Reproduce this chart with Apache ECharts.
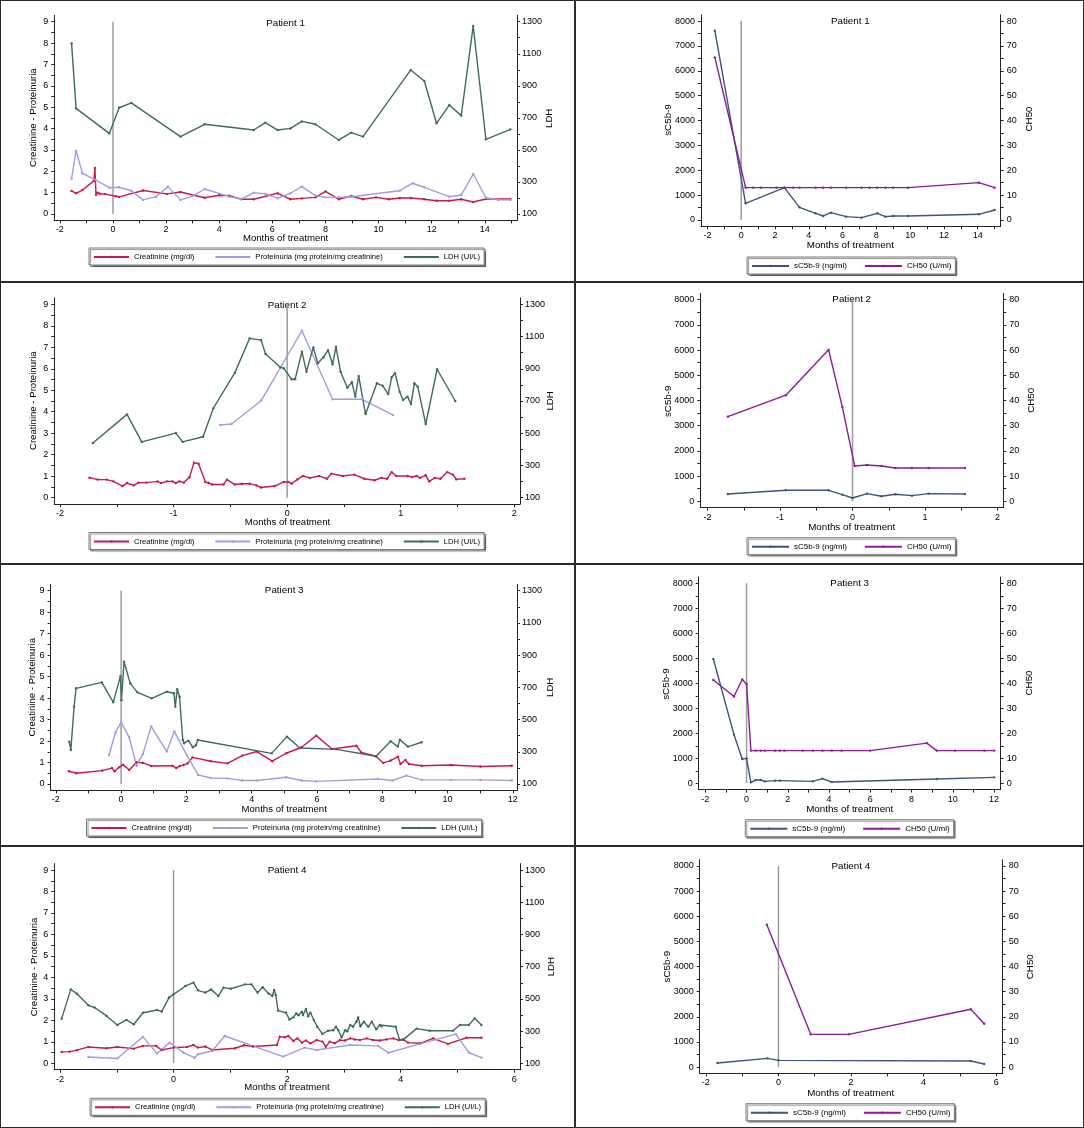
<!DOCTYPE html>
<html>
<head>
<meta charset="utf-8">
<script src="https://cdn.jsdelivr.net/npm/echarts@6/dist/echarts.min.js"></script>
<style>
  html, body { margin: 0; padding: 0; background: #fff; }
  #page { position: relative; width: 1084px; height: 1128px; overflow: hidden; }
  .panel { position: absolute; }
  .frame { position: absolute; box-sizing: border-box; border: 1px solid #2a2a2a; pointer-events: none; }
</style>
</head>
<body>
<div id="page"></div>
<script>
// ---------- tick labels ----------
const leftLabels = [0, 1, 2, 3, 4, 5, 6, 7, 8, 9]
const leftTicks = [0, 0.5, 1, 1.5, 2, 2.5, 3, 3.5, 4, 4.5, 5, 5.5, 6, 6.5, 7, 7.5, 8, 8.5, 9]
const ldhLabels = [100, 300, 500, 700, 900, 1100, 1300]
const ldhTicks = [100, 200, 300, 400, 500, 600, 700, 800, 900, 1000, 1100, 1200, 1300]
const sc5bLabels = [0, 1000, 2000, 3000, 4000, 5000, 6000, 7000, 8000]
const sc5bTicks = [0, 500, 1000, 1500, 2000, 2500, 3000, 3500, 4000, 4500, 5000, 5500, 6000, 6500, 7000, 7500, 8000]
const ch50Labels = [0, 10, 20, 30, 40, 50, 60, 70, 80]
const ch50Ticks = [0, 5, 10, 15, 20, 25, 30, 35, 40, 45, 50, 55, 60, 65, 70, 75, 80]

const monthLabelsP1 = [-2, 0, 2, 4, 6, 8, 10, 12, 14]
const monthTicksP1 = [-2, -1, 0, 1, 2, 3, 4, 5, 6, 7, 8, 9, 10, 11, 12, 13, 14, 15]
const monthLabelsP2 = [-2, -1, 0, 1, 2]
const monthTicksP2 = [-2, -1.5, -1, -0.5, 0, 0.5, 1, 1.5, 2]
const monthLabelsP3 = [-2, 0, 2, 4, 6, 8, 10, 12]
const monthTicksP3 = [-2, -1, 0, 1, 2, 3, 4, 5, 6, 7, 8, 9, 10, 11, 12]
const monthLabelsP4 = [-2, 0, 2, 4, 6]
const monthTicksP4 = [-2, -1, 0, 1, 2, 3, 4, 5, 6]

// start of treatment marker (month 0)
const zeroLineLeft = [[0, 0], [0, 9]]
const zeroLineRight = [[0, 0], [0, 8000]]

// ---------- Patient 1 ----------
const p1Creatinine = [[-1.56,1.08],[-1.39,0.97],[-1.15,1.12],[-0.72,1.55],[-0.68,2.15],[-0.64,0.9],[-0.58,1.0],[-0.5,0.95],[-0.3,0.93],[0.1,0.83],[0.23,0.8],[1.13,1.1],[2.03,0.94],[2.54,1.03],[3.45,0.76],[4.0,0.88],[4.38,0.86],[4.83,0.69],[5.3,0.69],[6.2,0.97],[6.68,0.69],[7.11,0.73],[7.62,0.78],[8.0,1.06],[8.5,0.69],[8.97,0.84],[9.41,0.69],[9.9,0.78],[10.38,0.69],[10.8,0.75],[11.21,0.75],[11.72,0.69],[12.18,0.62],[12.66,0.62],[13.11,0.69],[13.56,0.56],[14.04,0.7],[14.96,0.7]]
const p1Proteinuria = [[-1.56,1.65],[-1.39,2.96],[-1.15,1.9],[-0.66,1.6],[-0.14,1.23],[0.23,1.25],[0.69,1.09],[1.13,0.66],[1.62,0.81],[2.07,1.28],[2.54,0.66],[3.0,0.84],[3.45,1.17],[4.38,0.81],[4.83,0.7],[5.3,1.0],[5.73,0.94],[6.2,0.73],[6.68,0.97],[7.11,1.28],[7.62,0.86],[8.0,0.78],[8.5,0.78],[8.97,0.81],[10.8,1.09],[11.28,1.44],[11.72,1.25],[12.66,0.81],[13.11,0.89],[13.56,1.87],[14.04,0.76],[14.5,0.66],[14.96,0.66]]
const p1LDH = [[-1.56,1165],[-1.39,759],[-0.14,603],[0.23,763],[0.69,793],[2.54,583],[3.45,660],[5.3,624],[5.73,670],[6.2,624],[6.68,634],[7.11,678],[7.62,660],[8.5,562],[8.97,608],[9.41,583],[11.21,999],[11.72,930],[12.18,666],[12.66,780],[13.11,714],[13.56,1273],[14.04,566],[14.96,628]]
const p1SC5b9 = [[-1.56,7611],[0.26,670],[2.56,1300],[3.45,509],[4.4,268],[4.85,161],[5.31,295],[6.21,134],[7.12,94],[8.05,268],[8.54,134],[9.0,161],[9.88,161],[14.07,228],[15.0,402]]
const p1CH50 = [[-1.56,65.4],[0.26,13],[0.71,13],[1.16,13],[2.09,13],[2.56,13],[3.08,13],[3.45,13],[4.4,13],[4.85,13],[5.31,13],[6.21,13],[7.12,13],[7.6,13],[8.05,13],[8.54,13],[9.0,13],[9.88,13],[14.07,15],[15.0,13]]

// ---------- Patient 2 ----------
const p2Creatinine = [[-1.74,0.93],[-1.67,0.84],[-1.59,0.84],[-1.53,0.76],[-1.45,0.54],[-1.41,0.68],[-1.35,0.57],[-1.31,0.70],[-1.24,0.70],[-1.14,0.76],[-1.11,0.68],[-1.06,0.76],[-1.01,0.76],[-0.98,0.68],[-0.95,0.76],[-0.91,0.70],[-0.86,0.95],[-0.82,1.63],[-0.78,1.58],[-0.72,0.73],[-0.69,0.68],[-0.66,0.61],[-0.56,0.61],[-0.53,0.84],[-0.46,0.61],[-0.40,0.65],[-0.33,0.65],[-0.27,0.57],[-0.23,0.47],[-0.11,0.54],[-0.03,0.73],[0.01,0.73],[0.04,0.65],[0.09,0.85],[0.14,1.01],[0.20,0.92],[0.28,1.01],[0.35,0.88],[0.39,1.12],[0.49,1.01],[0.59,1.07],[0.68,0.88],[0.77,0.81],[0.83,0.92],[0.88,0.88],[0.92,1.19],[0.96,1.01],[1.06,1.01],[1.10,0.96],[1.14,1.01],[1.17,0.92],[1.22,1.04],[1.25,0.76],[1.30,0.92],[1.35,0.88],[1.41,1.19],[1.46,1.07],[1.49,0.85],[1.56,0.88]]
const p2Proteinuria = [[-0.59,3.38],[-0.49,3.43],[-0.23,4.51],[0.13,7.77],[0.40,4.58],[0.66,4.58],[0.93,3.85]]
const p2LDH = [[-1.71,439],[-1.41,617],[-1.28,446],[-0.98,501],[-0.92,446],[-0.74,478],[-0.65,655],[-0.46,876],[-0.33,1089],[-0.23,1078],[-0.19,992],[-0.06,909],[-0.03,903],[0.04,835],[0.07,835],[0.13,1006],[0.17,882],[0.23,1033],[0.27,934],[0.32,971],[0.36,1016],[0.40,928],[0.43,1037],[0.47,882],[0.53,782],[0.57,816],[0.60,727],[0.63,855],[0.69,619],[0.79,810],[0.84,795],[0.89,743],[0.92,847],[0.95,872],[0.99,758],[1.02,706],[1.06,727],[1.09,681],[1.12,810],[1.15,789],[1.22,557],[1.32,897],[1.48,700]]
const p2SC5b9 = [[-1.72,291],[-0.92,436],[-0.33,436],[-0.14,264],[0.0,132],[0.20,304],[0.40,198],[0.59,278],[0.82,225],[1.05,304],[1.55,291]]
const p2CH50 = [[-1.72,33.6],[-0.92,42.1],[-0.33,60.1],[-0.14,37.4],[0.03,14.0],[0.20,14.4],[0.40,14.0],[0.59,13.2],[0.82,13.2],[1.05,13.2],[1.55,13.2]]

// ---------- Patient 3 ----------
const p3Creatinine = [[-1.60,0.59],[-1.37,0.50],[-0.58,0.62],[-0.28,0.74],[-0.20,0.59],[-0.06,0.78],[0.06,0.90],[0.25,0.65],[0.47,1.01],[0.67,0.98],[0.92,0.84],[1.57,0.85],[1.69,0.74],[1.80,0.84],[1.91,0.88],[2.04,0.96],[2.19,1.24],[2.75,1.06],[3.26,0.96],[3.71,1.32],[4.16,1.51],[4.63,1.06],[5.06,1.43],[5.53,1.71],[5.98,2.25],[6.46,1.63],[7.21,1.78],[7.36,1.47],[7.81,1.29],[8.03,0.98],[8.26,1.09],[8.48,1.27],[8.56,0.93],[8.71,1.12],[8.82,0.93],[9.21,0.85],[10.11,0.88],[11.01,0.81],[11.97,0.85]]
const p3Proteinuria = [[-0.37,1.35],[-0.17,2.41],[0.0,2.87],[0.25,2.17],[0.47,0.85],[0.67,1.40],[0.92,2.68],[1.40,1.51],[1.63,2.45],[2.02,1.32],[2.36,0.42],[2.75,0.28],[3.26,0.26],[3.71,0.16],[4.16,0.16],[5.06,0.31],[5.53,0.16],[5.98,0.12],[7.87,0.23],[8.31,0.16],[8.74,0.39],[9.21,0.19],[10.11,0.19],[11.01,0.19],[11.97,0.16]]
const p3LDH = [[-1.59,363],[-1.54,311],[-1.44,580],[-1.38,694],[-0.59,731],[-0.24,607],[-0.02,770],[0.01,620],[0.09,859],[0.28,725],[0.50,669],[0.94,632],[1.40,673],[1.62,663],[1.66,580],[1.72,688],[1.79,642],[1.89,373],[1.93,353],[2.06,369],[2.20,328],[2.29,340],[2.35,373],[4.61,290],[5.08,394],[5.48,323],[6.6,315],[7.81,272],[8.26,365],[8.48,332],[8.54,375],[8.79,332],[9.21,359]]
const p3SC5b9 = [[-1.61,4972],[-0.61,1946],[-0.21,973],[0.0,1000],[0.21,40],[0.44,133],[0.68,133],[0.89,80],[1.38,107],[1.61,107],[3.21,80],[3.68,187],[4.13,53],[9.22,173],[12.0,240]]
const p3CH50 = [[-1.61,41.3],[-0.61,34.7],[-0.21,41.5],[0.0,39.7],[0.21,13.1],[0.44,13.1],[0.68,13.1],[0.89,13.1],[1.38,13.1],[1.61,13.1],[1.83,13.1],[2.72,13.1],[3.21,13.1],[3.68,13.1],[4.13,13.1],[4.61,13.1],[5.99,13.1],[8.74,16.1],[9.22,13.1],[10.1,13.1],[11.53,13.1],[12.0,13.1]]

// ---------- Patient 4 ----------
const p4Creatinine = [[-1.97,0.53],[-1.83,0.54],[-1.70,0.61],[-1.50,0.76],[-1.18,0.70],[-0.99,0.76],[-0.70,0.68],[-0.54,0.81],[-0.31,0.81],[-0.21,0.62],[0.0,0.73],[0.24,0.76],[0.35,0.85],[0.43,0.73],[0.56,0.78],[0.68,0.62],[1.08,0.70],[1.24,0.84],[1.40,0.78],[1.82,0.85],[1.87,1.24],[1.96,1.21],[2.02,1.27],[2.11,1.04],[2.18,1.16],[2.26,0.96],[2.33,1.06],[2.41,0.93],[2.52,1.08],[2.62,1.01],[2.68,0.77],[2.75,1.01],[2.84,0.93],[2.93,1.08],[3.02,1.06],[3.11,1.16],[3.19,1.11],[3.28,1.08],[3.40,1.16],[3.51,1.08],[3.63,1.06],[3.75,1.11],[3.87,1.16],[3.96,1.08],[4.04,1.11],[4.13,0.96],[4.34,0.93],[4.57,1.16],[4.83,0.90],[5.16,1.19],[5.42,1.19]]
const p4Proteinuria = [[-1.50,0.29],[-0.99,0.22],[-0.54,1.23],[-0.29,0.45],[-0.07,0.96],[0.17,0.50],[0.37,0.26],[0.43,0.42],[0.68,0.57],[0.90,1.27],[1.93,0.31],[2.31,0.73],[2.52,0.62],[3.11,0.85],[3.60,0.81],[3.78,0.49],[4.34,0.90],[4.97,1.36],[5.20,0.49],[5.42,0.26]]
const p4LDH = [[-1.97,377],[-1.81,559],[-1.70,532],[-1.50,460],[-1.39,446],[-1.18,394],[-0.99,338],[-0.83,369],[-0.70,342],[-0.54,414],[-0.29,431],[-0.21,421],[-0.08,508],[0.0,528],[0.21,580],[0.35,601],[0.43,553],[0.56,539],[0.66,559],[0.79,518],[0.88,570],[1.01,563],[1.26,590],[1.37,590],[1.48,539],[1.57,572],[1.67,534],[1.74,518],[1.77,555],[1.80,524],[1.84,427],[1.98,414],[2.04,372],[2.11,385],[2.16,410],[2.20,398],[2.26,420],[2.28,400],[2.33,437],[2.37,392],[2.41,414],[2.47,369],[2.53,327],[2.62,282],[2.72,302],[2.81,305],[2.86,327],[2.90,305],[2.96,261],[3.02,305],[3.06,298],[3.11,338],[3.16,327],[3.22,358],[3.25,385],[3.29,330],[3.35,358],[3.43,327],[3.49,358],[3.57,311],[3.63,338],[3.66,330],[3.91,327],[3.98,245],[4.04,245],[4.28,315],[4.51,302],[4.92,302],[5.04,338],[5.20,338],[5.30,379],[5.42,338]]
const p4SC5b9 = [[-1.68,159],[-0.30,345],[0.0,265],[5.30,239],[5.67,119]]
const p4CH50 = [[-0.32,56.6],[0.89,13.0],[1.94,13.0],[5.30,23.0],[5.67,17.2]]

// ---------- styling ----------
const FONT = '"Liberation Sans", Arial, sans-serif'
const INK = '#000'
const C_CREAT = '#c8194a'
const C_PROT = '#a39ce2'
const C_LDH = '#3f6b5b'
const C_SC5B = '#3c557a'
const C_CH50 = '#8d1b97'
const C_ZERO = '#9c9c9c'

const page = document.getElementById('page')

function makeBox(x, y, w, h) {
  const el = document.createElement('div')
  el.className = 'panel'
  Object.assign(el.style, { left: x + 'px', top: y + 'px', width: w + 'px', height: h + 'px' })
  page.appendChild(el)
  const fr = document.createElement('div')
  fr.className = 'frame'
  Object.assign(fr.style, { left: x + 'px', top: y + 'px', width: w + 'px', height: h + 'px' })
  page.appendChild(fr)
  return el
}

function valueAxis(o) {
  return {
    type: 'value',
    min: o.min,
    max: o.max,
    position: o.position,
    axisLine: { show: true, onZero: false, lineStyle: { color: '#222', width: 1 } },
    axisTick: { show: true, length: 3, customValues: o.ticks, lineStyle: { color: '#222', width: 1 } },
    axisLabel: {
      customValues: o.labels, fontFamily: FONT, fontSize: 9, color: INK, margin: o.margin || 6,
      formatter: v => String(v)
    },
    splitLine: { show: false },
    minorTick: { show: false }
  }
}

function lineSeries(name, data, color, yIdx) {
  return {
    type: 'line', name, data, yAxisIndex: yIdx,
    symbol: 'circle', symbolSize: 2.4, showSymbol: true,
    lineStyle: { color, width: 1.4 },
    itemStyle: { color },
    emphasis: { disabled: true },
    z: 3
  }
}

function zeroSeries(data) {
  return {
    type: 'line', data, yAxisIndex: 0, symbol: 'none', silent: true,
    lineStyle: { color: C_ZERO, width: 1.5 }, z: 1
  }
}

function legendBox(names, left, top, itemWidth, itemGap, fontSize) {
  return {
    data: names, left, top, orient: 'horizontal',
    itemWidth, itemHeight: 3, itemGap,
    padding: [5, 4, 4, 4],
    borderColor: '#7a7a7a', borderWidth: 1, backgroundColor: '#fff',
    shadowColor: 'rgba(0,0,0,0.45)', shadowBlur: 1, shadowOffsetX: 1.5, shadowOffsetY: 1.5,
    selectedMode: false,
    textStyle: { fontFamily: FONT, fontSize, color: INK }
  }
}

function label(text, x, y, size, vertical) {
  return {
    type: 'text', x, y, silent: true, rotation: vertical ? Math.PI / 2 : 0,
    style: { text, fontFamily: FONT, fontSize: size, fill: INK, align: 'center', verticalAlign: 'middle' }
  }
}

function drawLeft(cfg) {
  const el = makeBox(0, cfg.y, 575, 282)
  const chart = echarts.init(el)
  const names = ['Creatinine (mg/dl)', 'Proteinuria (mg protein/mg creatinine)', 'LDH (UI/L)']
  chart.setOption({
    animation: false,
    grid: { left: cfg.grid[0], top: cfg.grid[1], width: cfg.grid[2], height: cfg.grid[3], containLabel: false },
    graphic: [
      label(cfg.title, cfg.titleXY[0], cfg.titleXY[1], 9.8),
      label('Months of treatment', cfg.xNameXY[0], cfg.xNameXY[1], 9.6),
      label('Creatinine - Proteinuria', cfg.yNameXY[0], cfg.yNameXY[1], 9.6, true),
      label('LDH', cfg.y2NameXY[0], cfg.y2NameXY[1], 9.6, true)
    ],
    legend: legendBox(names, cfg.legend[0], cfg.legend[1], 35, 20, 7.6),
    xAxis: Object.assign(valueAxis({
      min: cfg.xRange[0], max: cfg.xRange[1], labels: cfg.xLabels, ticks: cfg.xTicks, margin: 5
    }), { position: 'bottom' }),
    yAxis: [
      valueAxis({ min: -0.3, max: 9.3, position: 'left', labels: leftLabels, ticks: leftTicks }),
      valueAxis({ min: 60, max: 1340, position: 'right', labels: ldhLabels, ticks: ldhTicks, margin: 5 })
    ],
    series: [
      zeroSeries(zeroLineLeft),
      lineSeries(names[0], cfg.creat, C_CREAT, 0),
      lineSeries(names[1], cfg.prot, C_PROT, 0),
      lineSeries(names[2], cfg.ldh, C_LDH, 1)
    ]
  })
}

function drawRight(cfg) {
  const el = makeBox(575, cfg.y, 509, 282)
  const chart = echarts.init(el)
  const names = ['sC5b-9 (ng/ml)', 'CH50 (U/ml)']
  chart.setOption({
    animation: false,
    grid: { left: cfg.grid[0], top: cfg.grid[1], width: cfg.grid[2], height: cfg.grid[3], containLabel: false },
    graphic: [
      label(cfg.title, cfg.titleXY[0], cfg.titleXY[1], 9.8),
      label('Months of treatment', cfg.xNameXY[0], cfg.xNameXY[1], 9.8),
      label('sC5b-9', cfg.yNameXY[0], cfg.yNameXY[1], 9.8, true),
      label('CH50', cfg.y2NameXY[0], cfg.y2NameXY[1], 9.8, true)
    ],
    legend: legendBox(names, cfg.legend[0], cfg.legend[1], 37, 17, 8),
    xAxis: Object.assign(valueAxis({
      min: cfg.xRange[0], max: cfg.xRange[1], labels: cfg.xLabels, ticks: cfg.xTicks, margin: 5
    }), { position: 'bottom' }),
    yAxis: [
      valueAxis({ min: -250, max: 8250, position: 'left', labels: sc5bLabels, ticks: sc5bTicks }),
      valueAxis({ min: -2.5, max: 82.5, position: 'right', labels: ch50Labels, ticks: ch50Ticks })
    ],
    series: [
      zeroSeries(zeroLineRight),
      lineSeries(names[0], cfg.sc5b, C_SC5B, 0),
      lineSeries(names[1], cfg.ch50, C_CH50, 1)
    ]
  })
}

// ---------- left column: creatinine / proteinuria / LDH ----------
drawLeft({ y: 0, title: 'Patient 1', titleXY: [285.5, 23], grid: [54.3, 15.3, 462.7, 205.1],
  xNameXY: [285.6, 238.3], yNameXY: [33.4, 117.7], y2NameXY: [549.5, 118.3],
  xRange: [-2.21, 15.21], xLabels: monthLabelsP1, xTicks: monthTicksP1, legend: [89, 248],
  creat: p1Creatinine, prot: p1Proteinuria, ldh: p1LDH })
drawLeft({ y: 282, title: 'Patient 2', titleXY: [287, 23.3], grid: [54.3, 15.9, 465.7, 206.2],
  xNameXY: [287.5, 240.7], yNameXY: [33.4, 118.7], y2NameXY: [550.5, 119],
  xRange: [-2.05, 2.05], xLabels: monthLabelsP2, xTicks: monthTicksP2, legend: [89, 250.5],
  creat: p2Creatinine, prot: p2Proteinuria, ldh: p2LDH })
drawLeft({ y: 564, title: 'Patient 3', titleXY: [284.2, 26], grid: [50.6, 20.3, 466.4, 206.1],
  xNameXY: [284.2, 245], yNameXY: [32.3, 123.3], y2NameXY: [550, 123.3],
  xRange: [-2.16, 12.13], xLabels: monthLabelsP3, xTicks: monthTicksP3, legend: [86.5, 255],
  creat: p3Creatinine, prot: p3Proteinuria, ldh: p3LDH })
drawLeft({ y: 846, title: 'Patient 4', titleXY: [287, 24], grid: [54.3, 17.6, 465.7, 206.1],
  xNameXY: [287, 241.7], yNameXY: [34.8, 121], y2NameXY: [551.5, 120.7],
  xRange: [-2.1, 6.1], xLabels: monthLabelsP4, xTicks: monthTicksP4, legend: [90, 252.3],
  creat: p4Creatinine, prot: p4Proteinuria, ldh: p4LDH })

// ---------- right column: sC5b-9 / CH50 ----------
drawRight({ y: 0, title: 'Patient 1', titleXY: [275.3, 21], grid: [126, 14.8, 299.7, 211.4],
  xNameXY: [275.3, 245.7], yNameXY: [93.7, 120], y2NameXY: [454, 119],
  xRange: [-2.38, 15.36], xLabels: monthLabelsP1, xTicks: monthTicksP1, legend: [172, 257],
  sc5b: p1SC5b9, ch50: p1CH50 })
drawRight({ y: 282, title: 'Patient 2', titleXY: [276.7, 17.7], grid: [125.3, 11.4, 303, 214.2],
  xNameXY: [276.7, 245], yNameXY: [93.7, 119.3], y2NameXY: [456.5, 118.3],
  xRange: [-2.1, 2.08], xLabels: monthLabelsP2, xTicks: monthTicksP2, legend: [172, 255.7],
  sc5b: p2SC5b9, ch50: p2CH50 })
drawRight({ y: 564, title: 'Patient 3', titleXY: [274.7, 19.3], grid: [123.7, 13, 302, 212.6],
  xNameXY: [274.7, 245], yNameXY: [91, 120], y2NameXY: [454, 119],
  xRange: [-2.32, 12.32], xLabels: monthLabelsP3, xTicks: monthTicksP3, legend: [170.3, 255.7],
  sc5b: p3SC5b9, ch50: p3CH50 })
drawRight({ y: 846, title: 'Patient 4', titleXY: [275.8, 20], grid: [124.7, 13.7, 303, 213.6],
  xNameXY: [275.7, 247], yNameXY: [92, 120.7], y2NameXY: [455.5, 120.7],
  xRange: [-2.17, 6.18], xLabels: monthLabelsP4, xTicks: monthTicksP4, legend: [171, 257.7],
  sc5b: p4SC5b9, ch50: p4CH50 })
</script>
</body>
</html>
